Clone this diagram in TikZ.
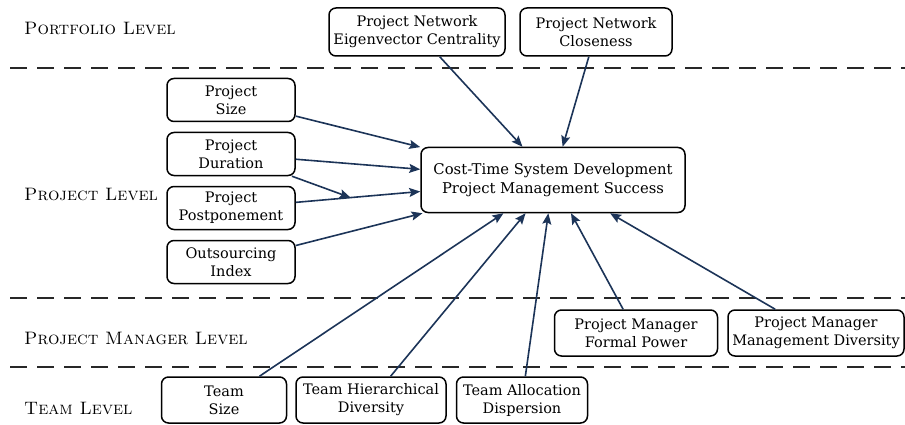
\documentclass[tikz,border=0pt]{standalone}
\usepackage{fontspec}
\newfontfamily\boxfont{DejaVu Serif}
\usetikzlibrary{arrows.meta,positioning}
\definecolor{arrowblue}{RGB}{28,52,88}
\definecolor{dashgray}{RGB}{40,40,40}
\tikzstyle{line} = [draw=arrowblue, line width=1.6pt, -{Stealth[length=11pt,width=9pt,inset=2pt]}]
\tikzstyle{var} = [rectangle, draw, rounded corners=7pt, line width=1.5pt, fill=white, align=center, inner sep=1pt, minimum height=43pt, font=\boxfont\fontsize{14.5}{18}\selectfont]
\tikzstyle{outcome} = [var, minimum width=264pt, minimum height=65pt, font=\boxfont\fontsize{14.8}{19}\selectfont]
\tikzstyle{level} = [anchor=west, inner sep=0pt, font=\fontsize{18}{20}\selectfont\scshape]
\tikzstyle{sep} = [draw=dashgray, line width=2.2pt, dash pattern=on 17pt off 10pt]

\begin{document}
\begin{tikzpicture}[x=1pt, y=-1pt]
\useasboundingbox (0,0) rectangle (905,425);

\node [level] (lport) at (24,28) {Portfolio Level};
\node [level] (lproj) at (24,194) {Project Level};
\node [level] (lpm) at (24,338) {Project Manager Level};
\node [level] (lteam) at (24,408) {Team Level};
\draw [sep] (10,68) -- (905,68);
\draw [sep] (10,298) -- (905,298);
\draw [sep] (10,367) -- (905,367);

\node [outcome] (ctr) at (553,180) {Cost-Time System Development\\Project Management Success};

\node [var, minimum width=176pt, minimum height=48pt] (pnec) at (417,32) {Project Network\\Eigenvector Centrality};
\node [var, minimum width=152pt, minimum height=48pt] (pnc) at (596,32) {Project Network\\Closeness};

\node [var, minimum width=128pt] (psize) at (231,100) {Project\\Size};
\node [var, minimum width=128pt, below of=psize, node distance=54pt] (pdur) {Project\\Duration};
\node [var, minimum width=128pt, below of=pdur, node distance=54pt] (ppost) {Project\\Postponement};
\node [var, minimum width=128pt, below of=ppost, node distance=54pt] (pout) {Outsourcing\\Index};

\node [var, minimum width=163pt, minimum height=46pt] (pmfp) at (636,333) {Project Manager\\Formal Power};
\node [var, minimum width=176pt, minimum height=46pt] (pmmd) at (816,333) {Project Manager\\Management Diversity};

\node [var, minimum width=125pt, minimum height=46pt] (tsize) at (224,400) {Team\\Size};
\node [var, minimum width=150pt, minimum height=46pt] (thier) at (371,400) {Team Hierarchical\\Diversity};
\node [var, minimum width=131pt, minimum height=46pt] (talloc) at (522,400) {Team Allocation\\Dispersion};

\path [line] (pnec) -- (ctr);
\path [line] (pnc) -- (ctr);
\path [line] (psize) -- (ctr);
\path [line] (pdur) -- (ctr);
\path [line] (ppost) -- coordinate[pos=0.44] (mid) (ctr);
\path [line] (pdur) -- (mid);
\path [line] (pout) -- (ctr);
\path [line] (tsize) -- (ctr);
\path [line] (thier) -- (ctr);
\path [line] (talloc) -- (ctr);
\path [line] (pmfp) -- (ctr);
\path [line] (pmmd) -- (ctr);

\end{tikzpicture}
\end{document}
